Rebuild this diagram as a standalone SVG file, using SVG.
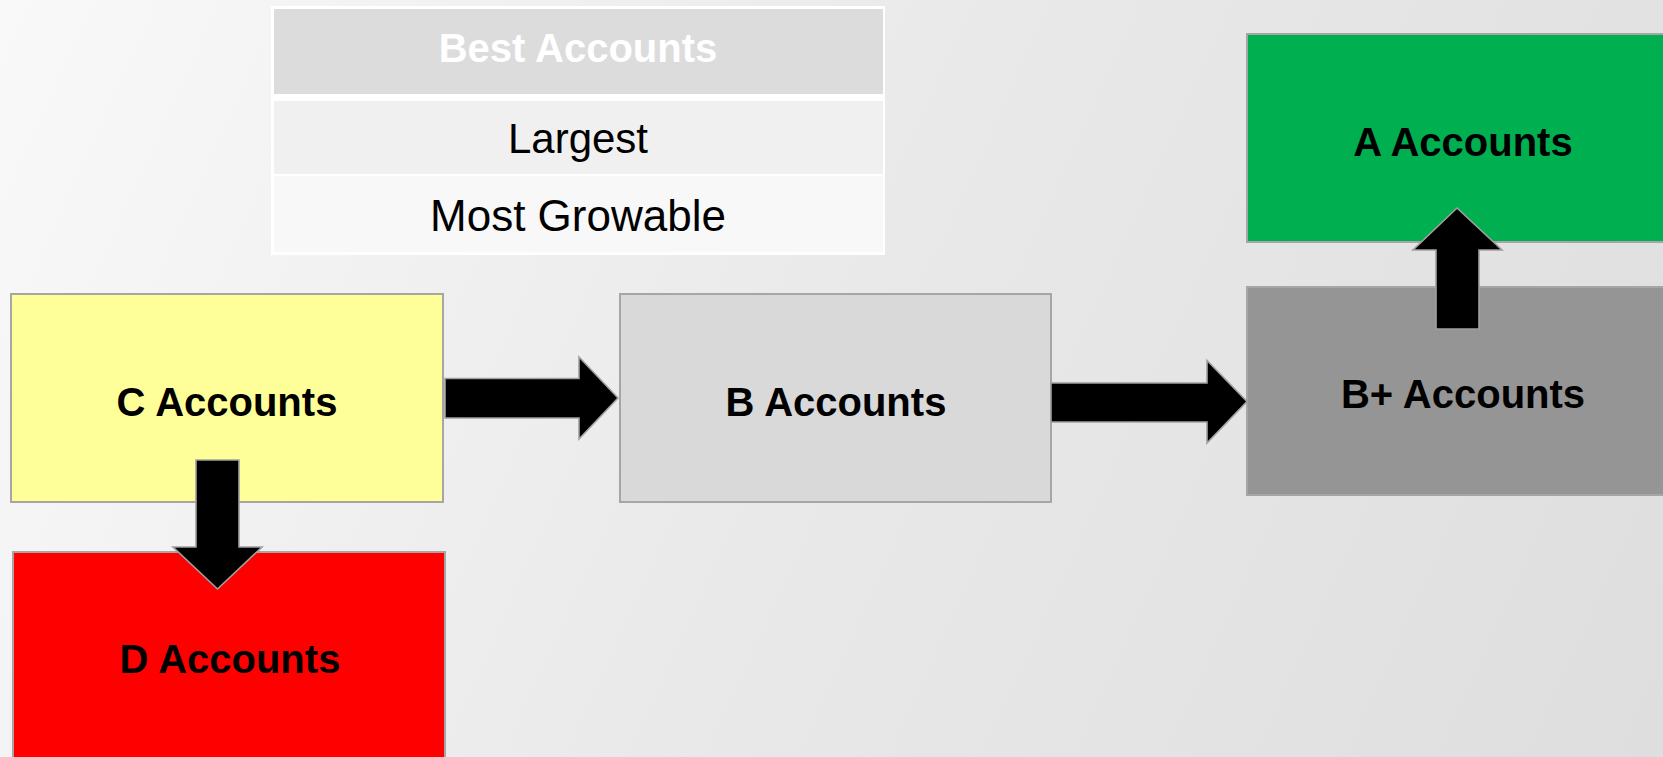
<svg xmlns="http://www.w3.org/2000/svg" width="1663" height="757" viewBox="0 0 1663 757">
  <defs>
    <linearGradient id="bg" x1="0" y1="0" x2="1663" y2="757" gradientUnits="userSpaceOnUse">
      <stop offset="0" stop-color="#f9f9f9"/>
      <stop offset="0.5" stop-color="#e9e9e9"/>
      <stop offset="1" stop-color="#dedede"/>
    </linearGradient>
    <style>
      .box { stroke: #a6a6a6; stroke-width: 2; }
      .lbl { font-family: "Liberation Sans", Arial, sans-serif; font-weight: bold; font-size: 40px; fill: #000; text-anchor: middle; }
      .row { font-family: "Liberation Sans", Arial, sans-serif; font-size: 42px; fill: #000; text-anchor: middle; }
      .arrow { fill: #000; stroke: #a0a0a0; stroke-width: 1.6; stroke-linejoin: miter; }
    </style>
  </defs>

  <rect x="0" y="0" width="1663" height="757" fill="url(#bg)"/>

  <!-- Criteria table -->
  <g id="best-accounts-table">
    <rect x="271" y="6" width="614" height="249" fill="#ffffff"/>
    <rect x="274" y="9" width="609" height="85" fill="#dcdcdc"/>
    <rect x="274" y="101" width="609" height="73" fill="#f0f0f0"/>
    <rect x="274" y="176" width="609" height="76" fill="#f8f8f8"/>
    <text class="lbl" x="578" y="62" fill="#ffffff" style="fill:#ffffff">Best Accounts</text>
    <text class="row" x="578" y="153">Largest</text>
    <text class="row" x="578" y="231" style="font-size:44px">Most Growable</text>
  </g>

  <g id="node-c">
    <rect class="box" x="11" y="294" width="432" height="208" fill="#ffff99"/>
    <text class="lbl" x="227" y="416">C Accounts</text>
  </g>

  <g id="node-d">
    <rect class="box" x="13" y="552" width="432" height="215" fill="#ff0000"/>
    <text class="lbl" x="230" y="673">D Accounts</text>
  </g>

  <g id="node-b">
    <rect class="box" x="620" y="294" width="431" height="208" fill="#d9d9d9"/>
    <text class="lbl" x="836" y="416">B Accounts</text>
  </g>

  <g id="node-a">
    <rect class="box" x="1247" y="34" width="430" height="208" fill="#00b050"/>
    <text class="lbl" x="1463" y="156">A Accounts</text>
  </g>

  <g id="node-bplus">
    <rect class="box" x="1247" y="287" width="430" height="208" fill="#959595"/>
    <text class="lbl" x="1463" y="408">B+ Accounts</text>
  </g>

  <!-- Block arrows between tiers -->
  <g id="connectors">
    <polygon class="arrow" points="445,378.5 579,378.5 579,357 618,398 579,439 579,418 445,418"/>
    <polygon class="arrow" points="1051,383 1207,383 1207,360.5 1247,401.5 1207,443 1207,422 1051,422"/>
    <polygon class="arrow" points="196,460 239,460 239,547 262,547 217.5,589 173,547 196,547"/>
    <polygon class="arrow" points="1436,329 1479,329 1479,250 1502,250 1457,208 1413,250 1436,250"/>
  </g>
</svg>
